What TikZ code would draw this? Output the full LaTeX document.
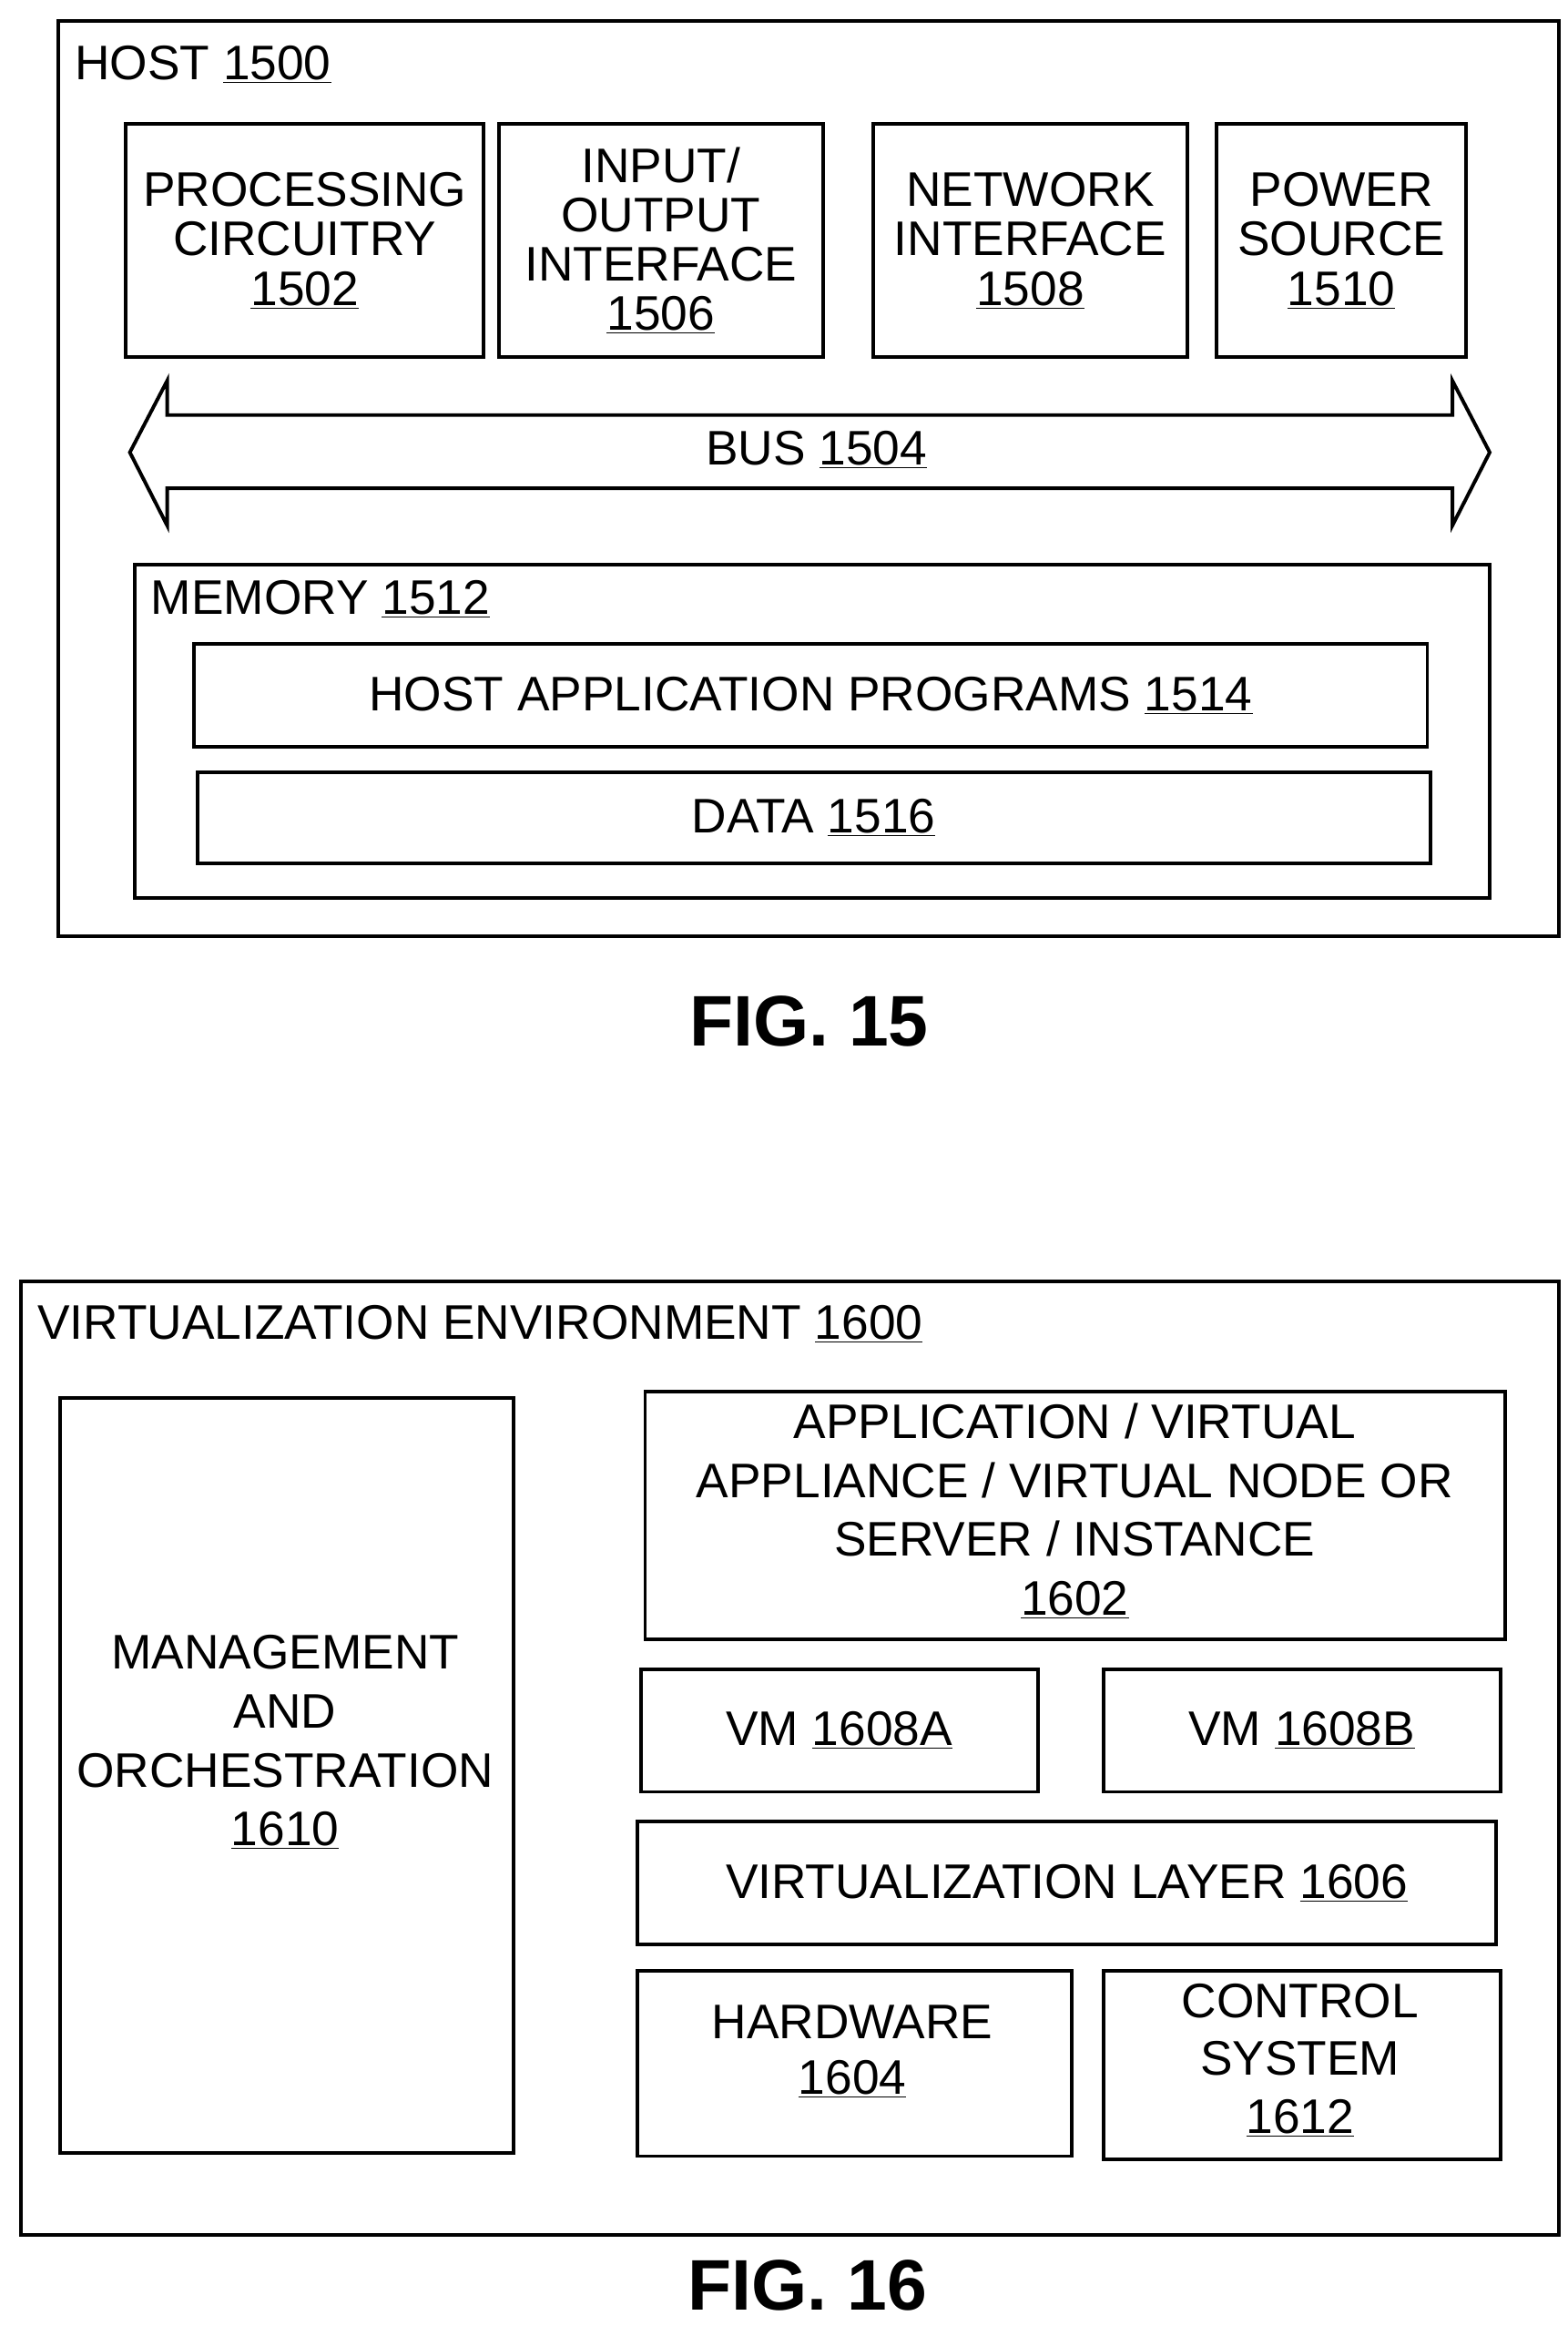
\documentclass[tikz,border=0pt]{standalone}
\usepackage{fontspec}
\setmainfont{Liberation Sans}
\begin{document}
\begin{tikzpicture}[x=1pt,y=-1pt,
    box/.style={draw, line width=2.4pt, anchor=north west, inner sep=0pt},
    txt/.style={font=\fontsize{32.5}{33}\selectfont, align=center, inner sep=0pt},
    lbl/.style={font=\fontsize{32.5}{33}\selectfont, anchor=west, inner sep=0pt},
    fig/.style={font=\fontsize{48}{52}\selectfont\bfseries, inner sep=0pt}]
\useasboundingbox (0,0) rectangle (1050,1558);
% FIG. 15
\node[box, minimum width=1005pt, minimum height=613pt] (host) at (38,13) {};
\node[lbl] (hostl) at (50,43) {HOST \underline{1500}};
\node[box, minimum width=240pt, minimum height=156pt] (proc) at (83,82) {};
\node[txt] (procl) at (proc.center) {PROCESSING\\CIRCUITRY\\\underline{1502}};
\node[box, minimum width=217pt, minimum height=156pt] (io) at (333,82) {};
\node[txt] (iol) at (io.center) {INPUT/\\OUTPUT\\INTERFACE\\\underline{1506}};
\node[box, minimum width=210pt, minimum height=156pt] (net) at (584,82) {};
\node[txt] (netl) at (net.center) {NETWORK\\INTERFACE\\\underline{1508}};
\node[box, minimum width=167pt, minimum height=156pt] (pow) at (814,82) {};
\node[txt] (powl) at (pow.center) {POWER\\SOURCE\\\underline{1510}};
% Bus
\draw[line width=2.4pt, line join=miter]
   (87,303) -- (112,255) -- (112,278) -- (973,278) -- (973,255)
-- (998,303) -- (973,352) -- (973,327) -- (112,327) -- (112,352) -- cycle;
\node[txt] (bus) at (547,301) {BUS \underline{1504}};
% Memory
\node[box, minimum width=908pt, minimum height=223pt] (mem) at (89,377) {};
\node[lbl] (meml) at (101,401) {MEMORY \underline{1512}};
\node[box, minimum width=826pt, minimum height=69pt] (app) at (129,430) {};
\node[txt] (appl) at (app.center) {HOST APPLICATION PROGRAMS \underline{1514}};
\node[box, minimum width=826pt, minimum height=61pt] (data) at (131,516) {};
\node[txt] (datal) at (data.center) {DATA \underline{1516}};
\node[fig] (fig15) at (542,684) {FIG. 15};
% FIG. 16
\node[box, minimum width=1030pt, minimum height=639pt] (env) at (13,857) {};
\node[lbl] (envl) at (25,887) {VIRTUALIZATION ENVIRONMENT \underline{1600}};
\node[box, minimum width=304pt, minimum height=506pt] (mano) at (39,935) {};
\node[txt, font=\fontsize{32.5}{39.5}\selectfont] (manol) at (191,1167) {MANAGEMENT\\AND\\ORCHESTRATION\\\underline{1610}};
\node[box, minimum width=576pt, minimum height=166pt] (inst) at (431,931) {};
\node[txt, font=\fontsize{32.5}{39.5}\selectfont] (instl) at (720,1012) {APPLICATION / VIRTUAL\\APPLIANCE / VIRTUAL NODE OR\\SERVER / INSTANCE\\\underline{1602}};
\node[box, minimum width=266pt, minimum height=82pt] (vma) at (428,1117) {};
\node[txt] (vmal) at (vma.center) {VM \underline{1608A}};
\node[box, minimum width=266pt, minimum height=82pt] (vmb) at (738,1117) {};
\node[txt] (vmbl) at (vmb.center) {VM \underline{1608B}};
\node[box, minimum width=575pt, minimum height=82pt] (virt) at (426,1219) {};
\node[txt] (virtl) at (virt.center) {VIRTUALIZATION LAYER \underline{1606}};
\node[box, minimum width=291pt, minimum height=124pt] (hw) at (426,1319) {};
\node[txt, font=\fontsize{32.5}{37}\selectfont] (hwl) at (571,1374) {HARDWARE\\\underline{1604}};
\node[box, minimum width=266pt, minimum height=126pt] (ctrl) at (738,1319) {};
\node[txt, font=\fontsize{32.5}{39}\selectfont] (ctrll) at (871,1380) {CONTROL\\SYSTEM\\\underline{1612}};
\node[fig] (fig16) at (541,1531) {FIG. 16};
\end{tikzpicture}
\end{document}
